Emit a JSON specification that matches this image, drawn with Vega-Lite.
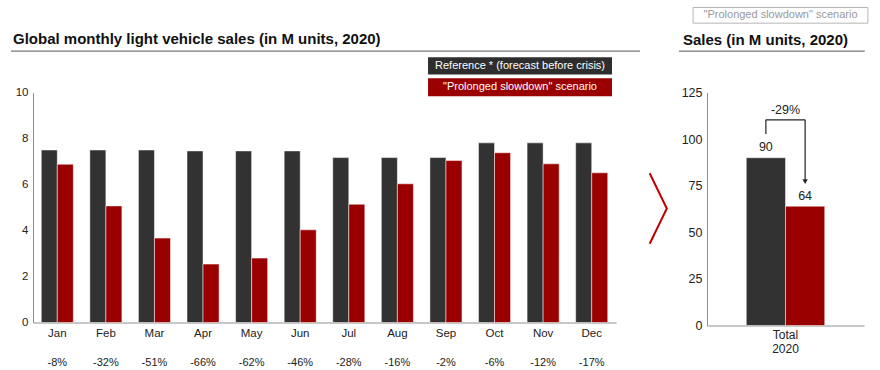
{
  "$schema": "https://vega.github.io/schema/vega-lite/v6.json",
  "background": "white",
  "padding": {"left": 10, "top": 6.5, "right": 4, "bottom": 0},
  "bounds": "flush",
  "spacing": 91,
  "config": {
    "view": {"stroke": null},
    "font": "Liberation Sans",
    "axis": {"domainColor": "#8f8f8f", "domainWidth": 1, "ticks": false, "tickSize": 0, "grid": false, "labelColor": "#222222", "labelFont": "Liberation Sans"}
  },
  "datasets": {
    "monthly": [
      {"month": "Jan", "series": "Reference * (forecast before crisis)", "value": 7.5},
      {"month": "Jan", "series": "\"Prolonged slowdown\" scenario", "value": 6.88},
      {"month": "Feb", "series": "Reference * (forecast before crisis)", "value": 7.5},
      {"month": "Feb", "series": "\"Prolonged slowdown\" scenario", "value": 5.07},
      {"month": "Mar", "series": "Reference * (forecast before crisis)", "value": 7.5},
      {"month": "Mar", "series": "\"Prolonged slowdown\" scenario", "value": 3.67},
      {"month": "Apr", "series": "Reference * (forecast before crisis)", "value": 7.46},
      {"month": "Apr", "series": "\"Prolonged slowdown\" scenario", "value": 2.54},
      {"month": "May", "series": "Reference * (forecast before crisis)", "value": 7.46},
      {"month": "May", "series": "\"Prolonged slowdown\" scenario", "value": 2.8},
      {"month": "Jun", "series": "Reference * (forecast before crisis)", "value": 7.46},
      {"month": "Jun", "series": "\"Prolonged slowdown\" scenario", "value": 4.03},
      {"month": "Jul", "series": "Reference * (forecast before crisis)", "value": 7.17},
      {"month": "Jul", "series": "\"Prolonged slowdown\" scenario", "value": 5.14},
      {"month": "Aug", "series": "Reference * (forecast before crisis)", "value": 7.17},
      {"month": "Aug", "series": "\"Prolonged slowdown\" scenario", "value": 6.03},
      {"month": "Sep", "series": "Reference * (forecast before crisis)", "value": 7.17},
      {"month": "Sep", "series": "\"Prolonged slowdown\" scenario", "value": 7.04},
      {"month": "Oct", "series": "Reference * (forecast before crisis)", "value": 7.81},
      {"month": "Oct", "series": "\"Prolonged slowdown\" scenario", "value": 7.38},
      {"month": "Nov", "series": "Reference * (forecast before crisis)", "value": 7.81},
      {"month": "Nov", "series": "\"Prolonged slowdown\" scenario", "value": 6.9},
      {"month": "Dec", "series": "Reference * (forecast before crisis)", "value": 7.81},
      {"month": "Dec", "series": "\"Prolonged slowdown\" scenario", "value": 6.51}
    ],
    "changes": [
      {"month": "Jan", "change": "-8%"},
      {"month": "Feb", "change": "-32%"},
      {"month": "Mar", "change": "-51%"},
      {"month": "Apr", "change": "-66%"},
      {"month": "May", "change": "-62%"},
      {"month": "Jun", "change": "-46%"},
      {"month": "Jul", "change": "-28%"},
      {"month": "Aug", "change": "-16%"},
      {"month": "Sep", "change": "-2%"},
      {"month": "Oct", "change": "-6%"},
      {"month": "Nov", "change": "-12%"},
      {"month": "Dec", "change": "-17%"}
    ],
    "total": [
      {"series": "Reference * (forecast before crisis)", "value": 90},
      {"series": "\"Prolonged slowdown\" scenario", "value": 64}
    ],
    "one": [{}]
  },
  "hconcat": [
    {
      "width": 583,
      "height": 230,
      "layer": [
        {
          "data": {"name": "monthly"},
          "mark": {"type": "bar", "stroke": "white", "strokeWidth": 0.5},
          "encoding": {
            "x": {"field": "month", "type": "nominal",
              "scale": {"domain": ["Jan","Feb","Mar","Apr","May","Jun","Jul","Aug","Sep","Oct","Nov","Dec"], "paddingInner": 0.34, "paddingOuter": 0.17},
              "axis": {"title": null, "labelAngle": 0, "labelFontSize": 11.5, "labelPadding": 5}},
            "xOffset": {"field": "series", "type": "nominal",
              "scale": {"domain": ["Reference * (forecast before crisis)", "\"Prolonged slowdown\" scenario"], "paddingInner": 0, "paddingOuter": 0}},
            "y": {"field": "value", "type": "quantitative",
              "scale": {"domain": [0, 10], "nice": false},
              "axis": {"title": null, "values": [0, 2, 4, 6, 8, 10], "labelFontSize": 11.5, "labelPadding": 5}},
            "color": {"field": "series", "type": "nominal",
              "scale": {"domain": ["Reference * (forecast before crisis)", "\"Prolonged slowdown\" scenario"], "range": ["#323232", "#9a0000"]},
              "legend": null}
          }
        },
        {
          "data": {"name": "changes"},
          "mark": {"type": "text", "fontSize": 11, "color": "#222222", "baseline": "middle"},
          "encoding": {
            "x": {"field": "month", "type": "nominal"},
            "y": {"datum": -1.78},
            "text": {"field": "change"}
          }
        },
        {
          "data": {"name": "one"},
          "mark": {"type": "rule", "color": "#555555", "strokeWidth": 1},
          "encoding": {
            "x": {"datum": "Jan", "bandPosition": -0.944},
            "x2": {"datum": "Dec", "bandPosition": 2.006},
            "y": {"datum": 11.8}
          }
        },
        {
          "data": {"name": "one"},
          "mark": {"type": "text", "fontSize": 15, "fontWeight": "bold", "color": "#111111", "align": "left", "baseline": "alphabetic"},
          "encoding": {
            "x": {"datum": "Jan", "bandPosition": -0.881},
            "y": {"datum": 12.09},
            "text": {"value": "Global monthly light vehicle sales (in M units, 2020)"}
          }
        },
        {
          "data": {"name": "one"},
          "mark": {"type": "rect", "color": "#2e2e2e"},
          "encoding": {
            "x": {"datum": "Sep", "bandPosition": -0.059},
            "x2": {"datum": "Dec", "bandPosition": 1.133},
            "y": {"datum": 11.53},
            "y2": {"datum": 10.78}
          }
        },
        {
          "data": {"name": "one"},
          "mark": {"type": "rect", "color": "#9a0000"},
          "encoding": {
            "x": {"datum": "Sep", "bandPosition": -0.059},
            "x2": {"datum": "Dec", "bandPosition": 1.133},
            "y": {"datum": 10.62},
            "y2": {"datum": 9.84}
          }
        },
        {
          "data": {"name": "one"},
          "mark": {"type": "text", "fontSize": 11, "color": "white", "align": "center", "baseline": "middle"},
          "encoding": {
            "x": {"datum": "Oct", "bandPosition": 1.294},
            "y": {"datum": 11.16},
            "text": {"value": "Reference * (forecast before crisis)"}
          }
        },
        {
          "data": {"name": "one"},
          "mark": {"type": "text", "fontSize": 11, "color": "white", "align": "center", "baseline": "middle"},
          "encoding": {
            "x": {"datum": "Oct", "bandPosition": 1.294},
            "y": {"datum": 10.23},
            "text": {"value": "\"Prolonged slowdown\" scenario"}
          }
        }
      ]
    },
    {
      "width": 157,
      "height": 233,
      "layer": [
        {
          "data": {"name": "total"},
          "mark": {"type": "bar", "stroke": "white", "strokeWidth": 0.5},
          "encoding": {
            "x": {"field": "series", "type": "nominal",
              "scale": {"domain": ["Reference * (forecast before crisis)", "\"Prolonged slowdown\" scenario"], "paddingInner": 0, "paddingOuter": 1.02},
              "axis": {"title": null, "labels": false, "ticks": false}},
            "y": {"field": "value", "type": "quantitative",
              "scale": {"domain": [0, 125], "nice": false},
              "axis": {"title": null, "values": [0, 25, 50, 75, 100, 125], "labelFontSize": 12.5, "labelPadding": 5}},
            "color": {"field": "series", "type": "nominal", "legend": null}
          }
        },
        {
          "data": {"name": "total"},
          "mark": {"type": "text", "fontSize": 12.5, "color": "#222222", "baseline": "middle", "dy": -10.5},
          "encoding": {
            "x": {"field": "series", "type": "nominal"},
            "y": {"field": "value", "type": "quantitative"},
            "text": {"field": "value"}
          }
        },
        {
          "data": {"name": "one"},
          "mark": {"type": "text", "fontSize": 12, "color": "#222222", "baseline": "top", "lineHeight": 14},
          "encoding": {
            "x": {"datum": "Reference * (forecast before crisis)", "bandPosition": 1},
            "y": {"datum": -2.6},
            "text": {"value": ["Total", "2020"]}
          }
        },
        {
          "data": {"name": "one"},
          "mark": {"type": "rule", "color": "#222222", "strokeWidth": 1.2},
          "encoding": {
            "x": {"datum": "Reference * (forecast before crisis)", "bandPosition": 0.5},
            "y": {"datum": 102.8},
            "y2": {"datum": 110.35}
          }
        },
        {
          "data": {"name": "one"},
          "mark": {"type": "rule", "color": "#222222", "strokeWidth": 1.2},
          "encoding": {
            "x": {"datum": "Reference * (forecast before crisis)", "bandPosition": 0.5},
            "x2": {"datum": "\"Prolonged slowdown\" scenario", "bandPosition": 0.5},
            "y": {"datum": 110.35}
          }
        },
        {
          "data": {"name": "one"},
          "mark": {"type": "rule", "color": "#222222", "strokeWidth": 1.2},
          "encoding": {
            "x": {"datum": "\"Prolonged slowdown\" scenario", "bandPosition": 0.5},
            "y": {"datum": 110.35},
            "y2": {"datum": 78.3}
          }
        },
        {
          "data": {"name": "one"},
          "mark": {"type": "point", "shape": "triangle-down", "filled": true, "color": "#222222", "size": 28, "opacity": 1},
          "encoding": {
            "x": {"datum": "\"Prolonged slowdown\" scenario", "bandPosition": 0.5},
            "y": {"datum": 77.2}
          }
        },
        {
          "data": {"name": "one"},
          "mark": {"type": "text", "fontSize": 12.5, "color": "#222222", "baseline": "middle"},
          "encoding": {
            "x": {"datum": "Reference * (forecast before crisis)", "bandPosition": 1},
            "y": {"datum": 115.5},
            "text": {"value": "-29%"}
          }
        },
        {
          "data": {"name": "one"},
          "mark": {"type": "rule", "color": "#555555", "strokeWidth": 1},
          "encoding": {
            "x": {"datum": "Reference * (forecast before crisis)", "bandPosition": -1.715},
            "x2": {"datum": "\"Prolonged slowdown\" scenario", "bandPosition": 2.02},
            "y": {"datum": 147.2}
          }
        },
        {
          "data": {"name": "one"},
          "mark": {"type": "text", "fontSize": 15, "fontWeight": "bold", "color": "#111111", "align": "left", "baseline": "alphabetic"},
          "encoding": {
            "x": {"datum": "Reference * (forecast before crisis)", "bandPosition": -1.612},
            "y": {"datum": 150.75},
            "text": {"value": "Sales (in M units, 2020)"}
          }
        },
        {
          "data": {"name": "one"},
          "mark": {"type": "rect", "fill": "white", "stroke": "#b5b5b5", "strokeWidth": 1},
          "encoding": {
            "x": {"datum": "Reference * (forecast before crisis)", "bandPosition": -1.354},
            "x2": {"datum": "\"Prolonged slowdown\" scenario", "bandPosition": 2.1},
            "y": {"datum": 170.6},
            "y2": {"datum": 162.2}
          }
        },
        {
          "data": {"name": "one"},
          "mark": {"type": "text", "fontSize": 11, "color": "#999999", "align": "center", "baseline": "middle"},
          "encoding": {
            "x": {"datum": "Reference * (forecast before crisis)", "bandPosition": 0.873},
            "y": {"datum": 166.5},
            "text": {"value": "\"Prolonged slowdown\" scenario"}
          }
        },
        {
          "data": {"name": "one"},
          "mark": {"type": "point", "shape": "M-0.243,-1L0.243,0L-0.243,1", "filled": false, "stroke": "#c00000", "strokeWidth": 2, "size": 4970, "opacity": 1},
          "encoding": {
            "x": {"datum": "Reference * (forecast before crisis)", "bandPosition": -2.242},
            "y": {"datum": 62.8}
          }
        }
      ]
    }
  ]
}
